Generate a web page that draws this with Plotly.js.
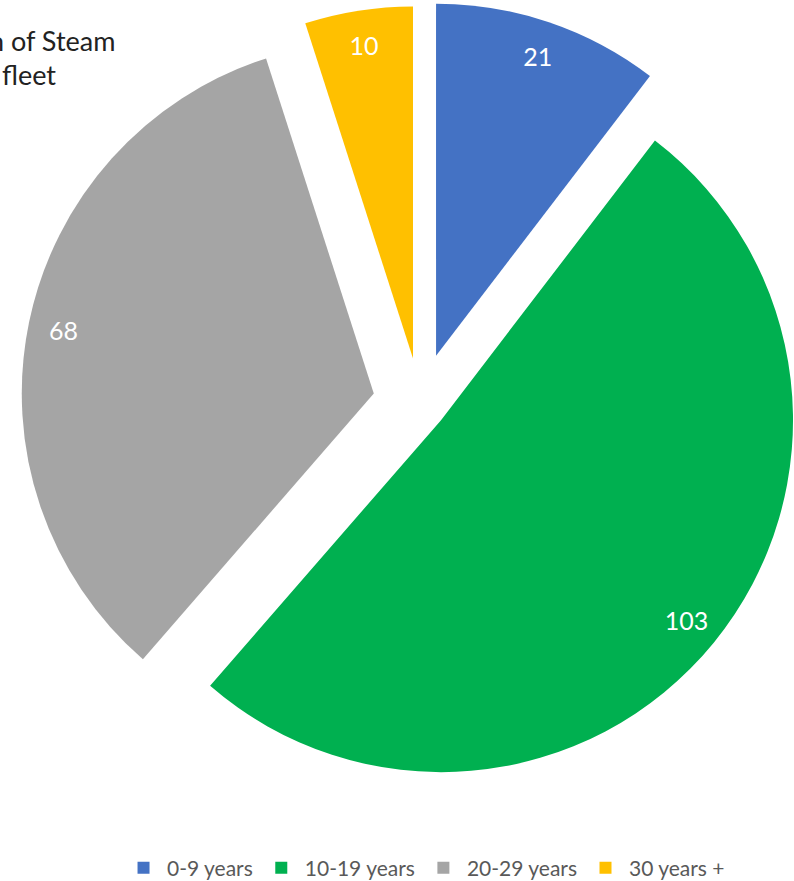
<!DOCTYPE html>
<html>
<head>
<meta charset="utf-8">
<script src="https://cdn.plot.ly/plotly-3.0.1.min.js"></script>
<style>
  html, body { margin: 0; padding: 0; width: 794px; height: 881px; overflow: hidden; background: #fff; }
  #chart { position: absolute; left: -30px; top: 0; width: 900px; height: 900px; }
</style>
</head>
<body>
<div id="chart"></div>
<script>
// Data
const categories = ["0-9 years", "10-19 years", "20-29 years", "30 years +"];
const counts = [21, 103, 68, 10];
const sliceColors = ["#4472C4", "#00B050", "#A5A5A5", "#FFC000"];
const titleLines = ["n of Steam", "fleet"];

const pulls = [0.142, 0.077, 0.134, 0.128];
const pieDomain = { x: [0.05333, 0.94667], y: [0.10567, 1] };

// Coloured slices
const slices = {
  type: "pie",
  labels: categories,
  values: counts,
  sort: false,
  direction: "clockwise",
  rotation: 0,
  pull: pulls,
  marker: { colors: sliceColors, line: { width: 0 } },
  textinfo: "none",
  hoverinfo: "none",
  domain: pieDomain
};

// Same slices, transparent ring, used only to place value labels near the outer edge
const labelRing = {
  type: "pie",
  labels: categories,
  values: counts,
  sort: false,
  direction: "clockwise",
  rotation: 0,
  pull: pulls,
  hole: 0.8,
  showlegend: false,
  marker: { colors: categories.map(() => "rgba(0,0,0,0)"), line: { width: 0 } },
  textinfo: "value",
  textposition: "inside",
  insidetextorientation: "horizontal",
  insidetextfont: { family: "Lato, sans-serif", size: 25, color: "#ffffff" },
  hoverinfo: "none",
  domain: pieDomain
};

const layout = {
  width: 900,
  height: 900,
  margin: { l: 0, r: 0, t: 1, b: 0 },
  paper_bgcolor: "#ffffff",
  showlegend: true,
  legend: {
    orientation: "h",
    x: 0.1667, xanchor: "left",
    y: 0.0356, yanchor: "middle",
    itemwidth: 37,
    font: { family: "Lato, sans-serif", size: 21, color: "#595959" },
    traceorder: "normal"
  },
  annotations: [
    { xref: "paper", yref: "paper", x: 0.0189, y: 0.9566, xanchor: "left", yanchor: "middle",
      text: titleLines[0], showarrow: false,
      font: { family: "Lato, sans-serif", size: 27, color: "#222222" } },
    { xref: "paper", yref: "paper", x: 0.0334, y: 0.9177, xanchor: "left", yanchor: "middle",
      text: titleLines[1], showarrow: false,
      font: { family: "Lato, sans-serif", size: 27, color: "#222222" } }
  ]
};

Plotly.newPlot("chart", [slices, labelRing], layout, { displayModeBar: false, staticPlot: true });
</script>
</body>
</html>
